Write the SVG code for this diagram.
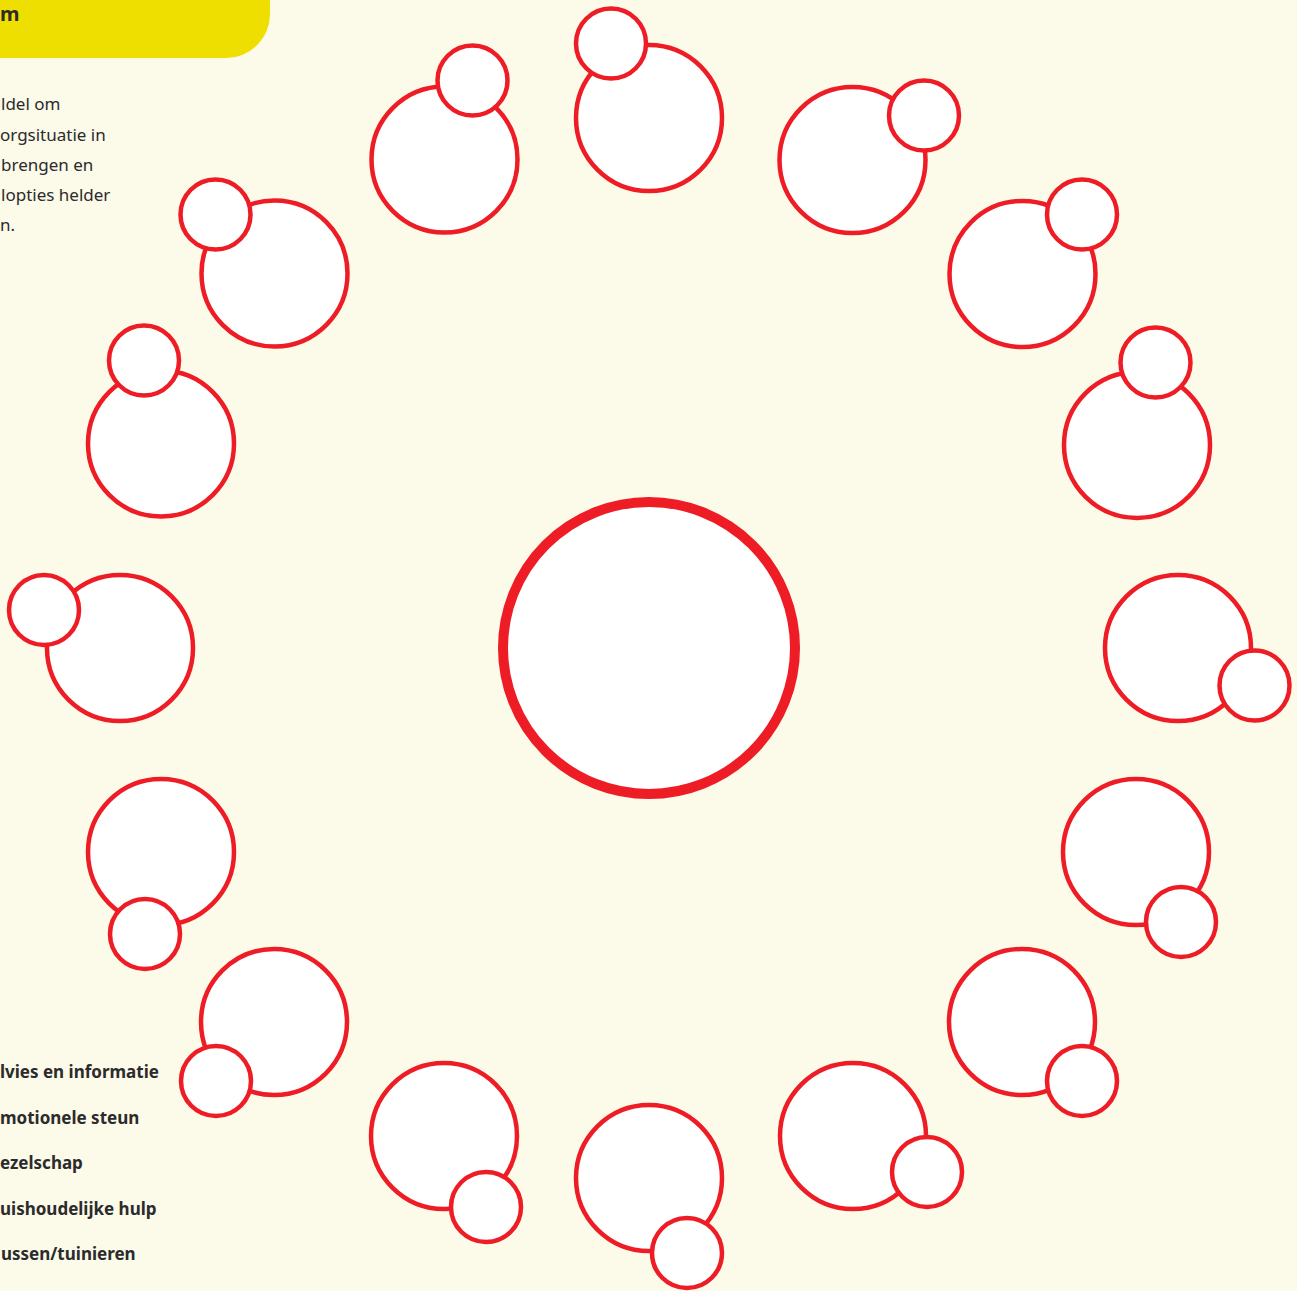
<svg xmlns="http://www.w3.org/2000/svg" width="1297" height="1291" viewBox="0 0 1297 1291">
<style>
.bg{fill:#FCFAE9}
.big{fill:#fff;stroke:#EE1C25;stroke-width:4.5}
.small{fill:#fff;stroke:#EE1C25;stroke-width:4.5}
.center{fill:#fff;stroke:#EE1C25;stroke-width:10}
.t{font-family:"Noto Sans","Open Sans",sans-serif;font-size:17px;fill:#2b2b2b}
.b{font-family:"Noto Sans","Open Sans",sans-serif;font-size:17px;font-weight:bold;fill:#2b2b2b}
</style>
<rect class="bg" x="0" y="0" width="1297" height="1291"/>
<g id="header">
<rect x="-60" y="-60" width="330" height="118" rx="44" fill="#EEDF00"/>
<text class="b" x="0" y="21" style="font-size:20px">m</text>
</g>
<g id="intro">
<text class="t" x="1" y="110">ldel om</text>
<text class="t" x="0" y="141">orgsituatie in</text>
<text class="t" x="1" y="171">brengen en</text>
<text class="t" x="1" y="201">lopties helder</text>
<text class="t" x="0" y="231">n.</text>
</g>
<g id="legend">
<text class="b" x="0" y="1078">lvies en informatie</text>
<text class="b" x="0" y="1124">motionele steun</text>
<text class="b" x="0" y="1169">ezelschap</text>
<text class="b" x="0" y="1215">uishoudelijke hulp</text>
<text class="b" x="1" y="1260">ussen/tuinieren</text>
</g>
<g id="connectors"></g>
<g id="center-node"><circle class="center" cx="649" cy="648" r="146"/></g>
<g id="n1"><circle class="big" cx="649" cy="118" r="73"/><circle class="small" cx="611" cy="43.5" r="35"/></g>
<g id="n2"><circle class="big" cx="444.5" cy="159.5" r="73"/><circle class="small" cx="472.5" cy="80.5" r="35"/></g>
<g id="n3"><circle class="big" cx="852.5" cy="160" r="73"/><circle class="small" cx="924" cy="115.5" r="35"/></g>
<g id="n4"><circle class="big" cx="274.5" cy="273.5" r="73"/><circle class="small" cx="215.5" cy="214.5" r="35"/></g>
<g id="n5"><circle class="big" cx="1022.5" cy="274" r="73"/><circle class="small" cx="1082" cy="214.5" r="35"/></g>
<g id="n6"><circle class="big" cx="161" cy="443.5" r="73"/><circle class="small" cx="144" cy="360.5" r="35"/></g>
<g id="n7"><circle class="big" cx="1137" cy="445" r="73"/><circle class="small" cx="1155.5" cy="362.5" r="35"/></g>
<g id="n8"><circle class="big" cx="120" cy="648" r="73"/><circle class="small" cx="44" cy="610" r="35"/></g>
<g id="n9"><circle class="big" cx="1178" cy="648" r="73"/><circle class="small" cx="1254.5" cy="685.5" r="35"/></g>
<g id="n10"><circle class="big" cx="161" cy="852" r="73"/><circle class="small" cx="145" cy="934" r="35"/></g>
<g id="n11"><circle class="big" cx="1136" cy="852" r="73"/><circle class="small" cx="1181" cy="922" r="35"/></g>
<g id="n12"><circle class="big" cx="274" cy="1022" r="73"/><circle class="small" cx="216" cy="1081" r="35"/></g>
<g id="n13"><circle class="big" cx="1022" cy="1022" r="73"/><circle class="small" cx="1082" cy="1081" r="35"/></g>
<g id="n14"><circle class="big" cx="444" cy="1136" r="73"/><circle class="small" cx="486" cy="1207" r="35"/></g>
<g id="n15"><circle class="big" cx="853" cy="1136" r="73"/><circle class="small" cx="927" cy="1172" r="35"/></g>
<g id="n16"><circle class="big" cx="649" cy="1178" r="73"/><circle class="small" cx="687" cy="1253" r="35"/></g>
</svg>
